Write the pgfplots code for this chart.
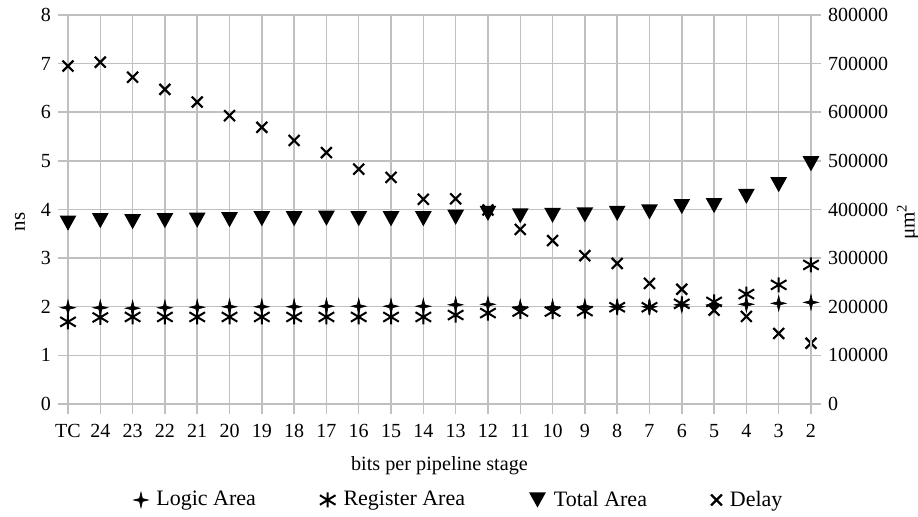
\documentclass[border=0pt]{standalone}
\usepackage{fontspec}
\setmainfont{Liberation Serif}
\usepackage{pgfplots}
\pgfplotsset{compat=1.18}

\definecolor{gridgray}{RGB}{192,192,192}

% filled downward triangle, centred on its bounding box
\pgfdeclareplotmark{dtri}{%
  \pgfpathmoveto{\pgfqpoint{-\pgfplotmarksize}{0.9\pgfplotmarksize}}%
  \pgfpathlineto{\pgfqpoint{\pgfplotmarksize}{0.9\pgfplotmarksize}}%
  \pgfpathlineto{\pgfqpoint{0pt}{-0.9\pgfplotmarksize}}%
  \pgfpathclose
  \pgfusepathqfill}
% four-pointed star
\pgfdeclareplotmark{star4}{%
  \pgfpathmoveto{\pgfqpoint{0pt}{1.05\pgfplotmarksize}}%
  \pgfpathlineto{\pgfqpoint{0.2\pgfplotmarksize}{0.2\pgfplotmarksize}}%
  \pgfpathlineto{\pgfqpoint{\pgfplotmarksize}{0pt}}%
  \pgfpathlineto{\pgfqpoint{0.2\pgfplotmarksize}{-0.2\pgfplotmarksize}}%
  \pgfpathlineto{\pgfqpoint{0pt}{-1.05\pgfplotmarksize}}%
  \pgfpathlineto{\pgfqpoint{-0.2\pgfplotmarksize}{-0.2\pgfplotmarksize}}%
  \pgfpathlineto{\pgfqpoint{-\pgfplotmarksize}{0pt}}%
  \pgfpathlineto{\pgfqpoint{-0.2\pgfplotmarksize}{0.2\pgfplotmarksize}}%
  \pgfpathclose
  \pgfusepathqfillstroke}
% six-armed asterisk, flattened diagonals
\pgfdeclareplotmark{aster}{%
  \pgfpathmoveto{\pgfqpoint{0pt}{\pgfplotmarksize}}%
  \pgfpathlineto{\pgfqpoint{0pt}{-\pgfplotmarksize}}%
  \pgfpathmoveto{\pgfqpoint{1.04\pgfplotmarksize}{0.63\pgfplotmarksize}}%
  \pgfpathlineto{\pgfqpoint{-1.04\pgfplotmarksize}{-0.63\pgfplotmarksize}}%
  \pgfpathmoveto{\pgfqpoint{1.04\pgfplotmarksize}{-0.63\pgfplotmarksize}}%
  \pgfpathlineto{\pgfqpoint{-1.04\pgfplotmarksize}{0.63\pgfplotmarksize}}%
  \pgfusepathqstroke}

\pgfplotstableread{
x  logic  register total delay
0  198000 169000 372000 6.95
1  198000 178000 377000 7.03
2  197000 179000 375000 6.72
3  198000 179000 377000 6.47
4  199000 179000 378000 6.21
5  200000 179000 379000 5.93
6  200000 179000 381000 5.69
7  200000 179000 381000 5.42
8  201000 179000 382000 5.17
9  201000 179000 381000 4.83
10 201000 179000 381000 4.66
11 201000 179000 381000 4.21
12 204000 183000 384000 4.22
13 205000 187000 392000 3.99
14 199000 190000 387000 3.59
15 199000 190000 388000 3.36
16 200000 191000 389000 3.05
17 200000 199000 392000 2.89
18 200000 199000 395000 2.48
19 204000 206000 406000 2.36
20 204000 210000 408000 1.93
21 205000 226000 427000 1.80
22 207000 245000 451000 1.45
23 209000 286000 494000 1.25
}\datatable

\pgfplotsset{
  common/.style={
    width=371.5pt, height=194.5pt, scale only axis,
    xmin=0, xmax=23,
    tick align=outside, major tick length=5pt,
    tick style={gridgray, line width=0.75pt},
    axis line style={gridgray, line width=0.75pt},
    ticklabel style={font=\fontsize{10}{12}\selectfont},
    /pgf/number format/assume math mode=true,
    legend image code/.code={\draw[mark repeat=2,mark phase=2,##1] plot coordinates {(0pt,0pt)(6pt,0pt)(12pt,0pt)};},
  },
  logicsty/.style={/tikz/only marks, mark=star4, mark size=3.7pt, black, line width=0.3pt},
  regsty/.style={/tikz/only marks, mark=aster, mark size=3.75pt, black, line width=1pt},
  totsty/.style={/tikz/only marks, mark=dtri, mark size=4.2pt, black},
  delsty/.style={/tikz/only marks, mark=x, mark size=3.85pt, black, line width=1.1pt},
}

\begin{document}
\begin{tikzpicture}
\begin{axis}[
  common,
  ymin=0, ymax=8, ytick={0,1,...,8},
  xtick={0,1,...,23},
  xticklabels={TC,24,23,22,21,20,19,18,17,16,15,14,13,12,11,10,9,8,7,6,5,4,3,2},
  xticklabel style={yshift=-1.5pt},
  xtick pos=bottom, ytick pos=left,
  grid=major, grid style={gridgray, line width=0.75pt},
  xlabel={bits per pipeline stage},
  xlabel style={font=\fontsize{10.1}{12}\selectfont, at={(axis description cs:0.5,-0.159)}, anchor=center},
  ylabel={ns},
  ylabel style={font=\fontsize{10.5}{12}\selectfont, at={(axis description cs:-0.0646,0.468)}, anchor=center},
]
\addplot[delsty] table[x=x, y=delay] {\datatable};
\end{axis}
\begin{axis}[
  common,
  hide x axis,
  axis y line*=right,
  ymin=0, ymax=800000, ytick distance=100000,
  scaled y ticks=false,
  yticklabel={\pgfmathprintnumber[fixed,precision=0,1000 sep={}]{\tick}},
  ylabel={μm\textsuperscript{2}},
  ylabel style={font=\fontsize{10.5}{12}\selectfont, at={(axis description cs:1.1305,0.468)}, anchor=center},
  legend columns=4,
  legend style={
    at={(axis description cs:0.5276,-0.2468)}, anchor=center,
    draw=none, fill=none,
    font=\fontsize{11}{13}\selectfont,
    /tikz/every odd column/.append style={column sep=2pt},
    /tikz/every even column/.append style={column sep=30pt},
  },
]
\addplot[logicsty] table[x=x, y=logic] {\datatable};
\addlegendentry{Logic Area}
\addplot[regsty] table[x=x, y=register] {\datatable};
\addlegendentry{Register Area}
\addplot[totsty] table[x=x, y=total] {\datatable};
\addlegendentry{Total Area}
\addlegendimage{delsty}
\addlegendentry{Delay}
\end{axis}
\pgfresetboundingbox
\path[use as bounding box] (-34pt,-56.5pt) rectangle (425pt,202pt);
\end{tikzpicture}
\end{document}
